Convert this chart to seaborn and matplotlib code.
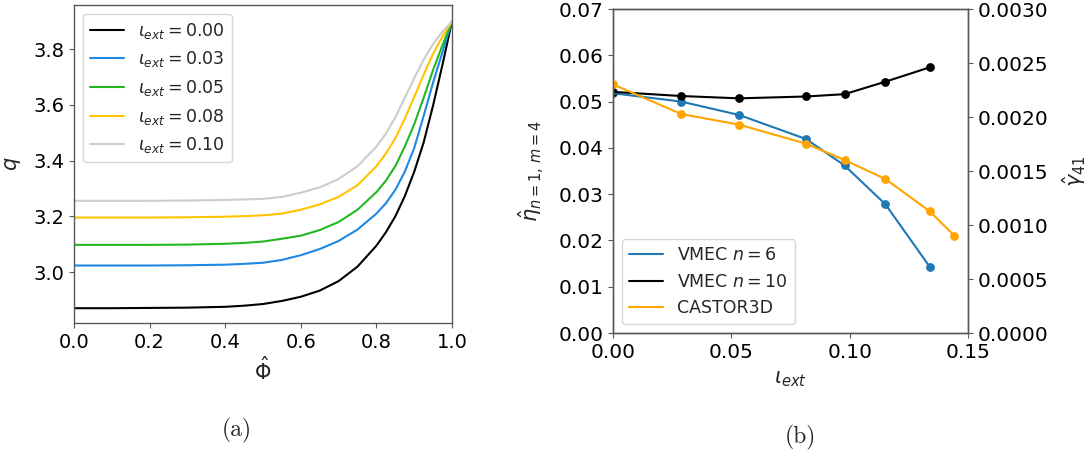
import numpy as np
import pandas as pd
import matplotlib
matplotlib.use("Agg")
import matplotlib.pyplot as plt
import seaborn as sns

# ---- panel (a): q profiles for several external rotational transforms
phi = [0.0, 0.1, 0.2, 0.3, 0.4, 0.45, 0.5, 0.55, 0.6, 0.65, 0.7, 0.75,
       0.8, 0.825, 0.85, 0.875, 0.9, 0.925, 0.95, 0.975, 1.0]
q_000 = [2.871, 2.871, 2.872, 2.873, 2.876, 2.880, 2.886, 2.897, 2.912, 2.934, 2.968, 3.020,
         3.095, 3.143, 3.200, 3.272, 3.360, 3.465, 3.598, 3.745, 3.900]
q_003 = [3.024, 3.024, 3.024, 3.025, 3.027, 3.030, 3.034, 3.044, 3.061, 3.083, 3.112, 3.153,
         3.210, 3.247, 3.295, 3.360, 3.445, 3.560, 3.680, 3.790, 3.900]
q_005 = [3.098, 3.098, 3.098, 3.099, 3.102, 3.105, 3.110, 3.120, 3.131, 3.151, 3.180, 3.224,
         3.287, 3.328, 3.380, 3.450, 3.530, 3.625, 3.725, 3.815, 3.900]
q_008 = [3.196, 3.196, 3.196, 3.197, 3.199, 3.201, 3.204, 3.210, 3.224, 3.243, 3.270, 3.312,
         3.380, 3.425, 3.480, 3.550, 3.628, 3.708, 3.783, 3.845, 3.900]
q_010 = [3.256, 3.256, 3.256, 3.257, 3.259, 3.261, 3.263, 3.270, 3.285, 3.304, 3.334, 3.380,
         3.450, 3.497, 3.555, 3.625, 3.695, 3.762, 3.818, 3.863, 3.900]
iota_labels = [r"$\iota_{ext} = 0.00$", r"$\iota_{ext} = 0.03$", r"$\iota_{ext} = 0.05$",
               r"$\iota_{ext} = 0.08$", r"$\iota_{ext} = 0.10$"]
q_colors = ["#000000", "#1e88e5", "#22b822", "#ffc400", "#cccccc"]

# ---- panel (b): eta (left axis) and growth rate (right axis) vs iota_ext
iota_vmec = [0.0, 0.0288, 0.0533, 0.0816, 0.0978, 0.1151, 0.1338]
eta_n6 = [0.0518, 0.0500, 0.0471, 0.0419, 0.0362, 0.0278, 0.0143]
eta_n10 = [0.0521, 0.0512, 0.0507, 0.0511, 0.0516, 0.0543, 0.0574]
iota_castor = [0.0, 0.0288, 0.0533, 0.0816, 0.0978, 0.1151, 0.1338, 0.1442]
gamma_castor = [0.002302, 0.002028, 0.001929, 0.001753, 0.001602, 0.001426, 0.001127, 0.000901]

sns.set_style("ticks")
plt.rcParams["font.family"] = ["DejaVu Sans"]
plt.rcParams["axes.edgecolor"] = "0.35"
plt.rcParams["xtick.color"] = "0.35"
plt.rcParams["ytick.color"] = "0.35"
plt.rcParams["xtick.labelcolor"] = "black"
plt.rcParams["ytick.labelcolor"] = "black"
plt.rcParams["axes.linewidth"] = 1.0

fig = plt.figure(figsize=(10.86, 4.53), dpi=100)

# left panel
ax_a = fig.add_axes([0.0681, 0.2870, 0.3481, 0.7020])
df_q = pd.concat([
    pd.DataFrame({"phi": phi, "q": vals, "case": lab})
    for vals, lab in zip([q_000, q_003, q_005, q_008, q_010], iota_labels)
])
sns.lineplot(data=df_q, x="phi", y="q", hue="case", hue_order=iota_labels,
             palette=q_colors, linewidth=1.5, ax=ax_a, errorbar=None)
ax_a.set_xlim(0, 1)
ax_a.set_ylim(2.818, 3.958)
ax_a.set_xticks([0.0, 0.2, 0.4, 0.6, 0.8, 1.0])
ax_a.set_yticks([3.0, 3.2, 3.4, 3.6, 3.8])
ax_a.tick_params(labelsize=14)
ax_a.set_xlabel(r"$\hat{\Phi}$", fontsize=15)
ax_a.set_ylabel(r"$q$", fontsize=15)
ax_a.yaxis.set_label_coords(-0.135, 0.5)
ax_a.xaxis.set_label_coords(0.5, -0.105)
ax_a.legend(loc="upper left", fontsize=12.5, frameon=True)

# right panel
ax_b = fig.add_axes([0.5645, 0.2649, 0.3269, 0.7152])
ax_g = ax_b.twinx()
sns.lineplot(x=iota_vmec, y=eta_n6, color="#1f77b4", linewidth=1.5,
             label=r"VMEC $n = 6$", ax=ax_b)
sns.scatterplot(x=iota_vmec, y=eta_n6, color="#1f77b4", s=40, linewidth=0, ax=ax_b)
sns.lineplot(x=iota_vmec, y=eta_n10, color="black", linewidth=1.5,
             label=r"VMEC $n = 10$", ax=ax_b)
sns.scatterplot(x=iota_vmec, y=eta_n10, color="black", s=40, linewidth=0, ax=ax_b)
sns.lineplot(x=iota_castor, y=gamma_castor, color="#ffa500", linewidth=1.5,
             label="CASTOR3D", ax=ax_g)
sns.scatterplot(x=iota_castor, y=gamma_castor, color="#ffa500", s=40, linewidth=0, ax=ax_g)
for ax in (ax_b, ax_g):
    if ax.get_legend() is not None:
        ax.get_legend().remove()

ax_b.set_xlim(0, 0.15)
ax_b.set_ylim(0, 0.07)
ax_g.set_ylim(0, 0.003)
ax_b.set_xticks([0.0, 0.05, 0.10, 0.15])
ax_b.set_xticklabels(["0.00", "0.05", "0.10", "0.15"])
ax_b.set_yticks(np.arange(0, 0.0701, 0.01))
ax_b.set_yticklabels([f"{v:.2f}" for v in np.arange(0, 0.0701, 0.01)])
ax_g.set_yticks(np.arange(0, 0.00301, 0.0005))
ax_g.set_yticklabels([f"{v:.4f}" for v in np.arange(0, 0.00301, 0.0005)])
ax_b.tick_params(labelsize=14.5)
ax_g.tick_params(labelsize=14.5)
ax_b.set_xlabel(r"$\iota_{ext}$", fontsize=15)
ax_b.set_ylabel(r"$\hat{\eta}_{n=1,\,m=4}$", fontsize=15)
ax_g.set_ylabel(r"$\hat{\gamma}_{41}$", fontsize=15)
ax_b.xaxis.set_label_coords(0.5, -0.11)
ax_b.yaxis.set_label_coords(-0.19, 0.5)
ax_g.yaxis.set_label_coords(1.26, 0.5)
for sp in ["top", "right"]:
    ax_b.spines[sp].set_visible(True)
    ax_a.spines[sp].set_visible(True)

handles = [ax_b.lines[0], ax_b.lines[1], ax_g.lines[0]]
labels = [h.get_label() for h in handles]
ax_g.legend(handles, labels, loc="lower left", fontsize=12.5, frameon=True)

fig.text(0.2182, 0.049, "(a)", fontsize=17, family="cmr10", ha="center", va="center")
fig.text(0.7366, 0.035, "(b)", fontsize=17, family="cmr10", ha="center", va="center")

fig.savefig("out.png", dpi=100)
